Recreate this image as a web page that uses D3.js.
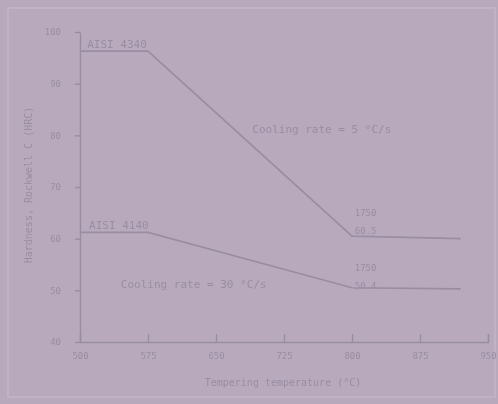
<!DOCTYPE html>
<html><head><meta charset="utf-8">
<script src="https://cdn.jsdelivr.net/npm/d3@7/dist/d3.min.js"></script>
<style>
html,body{margin:0;padding:0;background:#b8aabc;}
svg{display:block;}
text{font-family:"DejaVu Sans Mono",monospace;}
</style></head>
<body><svg id="c" width="498" height="404"></svg>
<script>
const xTicks = [500, 575, 650, 725, 800, 875, 950];
const yTicks = [40, 50, 60, 70, 80, 90, 100];
const upperX = [500, 575, 800, 920];
const upperY = [96.3, 96.3, 60.5, 60.0];
const lowerX = [500, 575, 800, 920];
const lowerY = [61.2, 61.2, 50.5, 50.3];
const upperLabel = "AISI 4340";
const lowerLabel = "AISI 4140";
const upperNote = "Cooling rate = 5 °C/s";
const lowerNote = "Cooling rate = 30 °C/s";
const rightNotes = ["1750", "60.5", "1750", "50.4"];
const xTitle = "Tempering temperature (°C)";
const yTitle = "Hardness, Rockwell C (HRC)";

const ink = "#998da4";
const svg = d3.select("#c");
const defs = svg.append("defs");
defs.append("filter").attr("id", "blur").append("feGaussianBlur").attr("stdDeviation", 0.6);
const g = svg.append("g").attr("filter", "url(#blur)");

const x = d3.scaleLinear().domain([500, 950]).range([80, 488]);
const y = d3.scaleLinear().domain([40, 100]).range([342, 32]);

// faint outer frame
g.append("rect").attr("x", 8).attr("y", 8).attr("width", 487).attr("height", 389)
  .attr("fill", "none").attr("stroke", "#c0b4c4").attr("stroke-width", 2);

const xa = g.append("g").attr("transform", "translate(0,342)")
  .call(d3.axisBottom(x).tickValues(xTicks).tickSizeInner(-8).tickSizeOuter(-8).tickPadding(11).tickFormat(d3.format("d")));
const ya = g.append("g").attr("transform", "translate(80,0)")
  .call(d3.axisLeft(y).tickValues(yTicks).tickSizeInner(5).tickSizeOuter(0).tickPadding(14).tickFormat(d3.format("d")));
[xa, ya].forEach(a => {
  a.selectAll("path,line").attr("stroke", ink).attr("stroke-width", 1.4);
  a.selectAll("text").attr("fill", ink).attr("font-size", 9).attr("font-family", "DejaVu Sans Mono");
});

const line = d3.line().x(d => x(d[0])).y(d => y(d[1]));
g.append("path").datum(upperX.map((v, i) => [v, upperY[i]]))
  .attr("d", line).attr("fill", "none").attr("stroke", ink).attr("stroke-width", 1.7);
g.append("path").datum(lowerX.map((v, i) => [v, lowerY[i]]))
  .attr("d", line).attr("fill", "none").attr("stroke", ink).attr("stroke-width", 1.7);

function txt(t, px, py, size, anchor) {
  g.append("text").attr("x", px).attr("y", py).attr("fill", ink)
    .attr("font-size", size).attr("text-anchor", anchor || "start").text(t);
}
txt(upperLabel, x(508), y(96.9), 11);
txt(lowerLabel, x(510), y(61.9), 11);
txt(upperNote, x(690), y(80.4), 11);
txt(lowerNote, x(545), y(50.4), 11);
txt(rightNotes[0], x(803), y(64.3), 9);
txt(rightNotes[1], x(803), y(61.0), 9);
txt(rightNotes[2], x(803), y(53.8), 9);
txt(rightNotes[3], x(803), y(50.3), 9);

g.append("text").attr("x", 283).attr("y", 386).attr("text-anchor", "middle")
  .attr("fill", ink).attr("font-size", 10).text(xTitle);
g.append("text").attr("transform", "translate(32,185) rotate(-90)").attr("text-anchor", "middle")
  .attr("fill", ink).attr("font-size", 10).text(yTitle);
</script></body></html>
